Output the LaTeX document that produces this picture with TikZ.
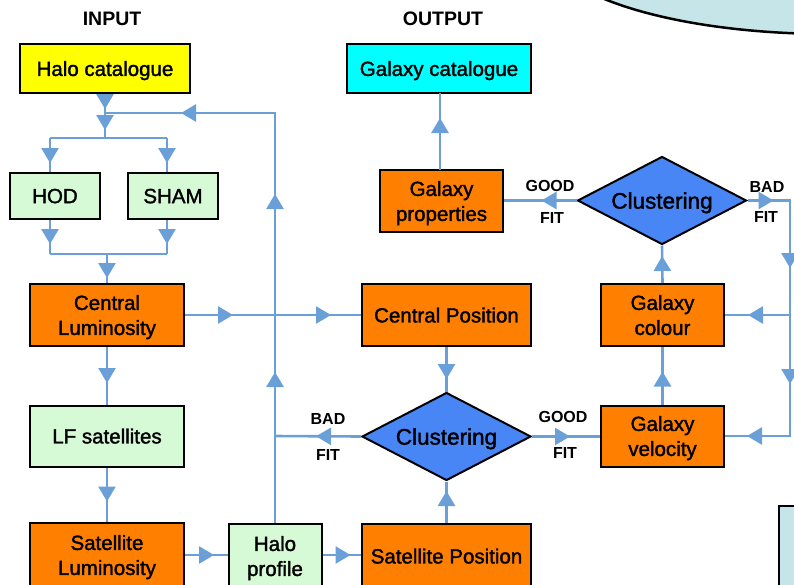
\documentclass[tikz,border=0pt]{standalone}
\usepackage{fontspec}
\setmainfont{Liberation Sans}
\newfontfamily\boxfont{Liberation Sans}[FakeBold=1.6]
\usetikzlibrary{shapes.geometric,arrows.meta,decorations.markings}

\definecolor{flowblue}{RGB}{106,159,216}
\definecolor{haloyellow}{RGB}{255,255,0}
\definecolor{galcyan}{RGB}{0,255,255}
\definecolor{paleGreen}{RGB}{214,250,214}
\definecolor{procOrange}{RGB}{255,128,0}
\definecolor{testBlue}{RGB}{72,134,246}
\definecolor{paleCyan}{RGB}{198,229,233}

\tikzset{
  box/.style={draw=black, line width=2pt, align=center, inner sep=0pt,
    text depth=0pt, font=\boxfont\fontsize{20.5}{25}\selectfont},
  inbox/.style={box, fill=haloyellow},
  outbox/.style={box, fill=galcyan},
  modelbox/.style={box, fill=paleGreen},
  procbox/.style={box, fill=procOrange},
  testnode/.style={draw=black, line width=2pt, fill=testBlue, diamond,
    aspect=1.95, inner sep=0pt, minimum width=169pt, minimum height=88pt,
    text depth=0pt, font=\boxfont\fontsize{22.5}{26}\selectfont},
  flow/.style={draw=flowblue, line width=2.6pt},
  tipat/.style={postaction={decorate,decoration={markings,
    mark=at position #1pt with {\arrow[flowblue]{Triangle[width=17pt,length=15pt]}}}}},
  lab/.style={inner sep=0pt, font=\bfseries\fontsize{16}{19}\selectfont},
  head/.style={inner sep=0pt, font=\bfseries\fontsize{19.5}{23}\selectfont},
}

\begin{document}
\begin{tikzpicture}[x=1pt,y=-1pt]
\useasboundingbox (0,0) rectangle (794,584);
\clip (0,0) rectangle (794,584);

% decorative shapes at the edges
\draw[fill=paleCyan, line width=2.5pt] (830,-56) ellipse [x radius=285, y radius=90];
\draw[fill=paleCyan, line width=2.5pt] (779,506) rectangle (830,620);

% headings
\node[head] (hIn) at (112,19) {INPUT};
\node[head] (hOut) at (443,19) {OUTPUT};

% boxes
\node[inbox, minimum width=170pt, minimum height=49pt] (haloCat) at (105,68.5) {Halo catalogue};
\node[outbox, minimum width=184pt, minimum height=49pt] (galCat) at (439,68.5) {Galaxy catalogue};
\node[modelbox, minimum width=90pt, minimum height=46pt] (hod) at (55,196) {HOD};
\node[modelbox, minimum width=90pt, minimum height=46pt] (sham) at (173,196) {SHAM};
\node[procbox, minimum width=154pt, minimum height=62pt] (cenLum) at (107,315) {Central\\Luminosity};
\node[procbox, minimum width=169pt, minimum height=62pt] (cenPos) at (446.5,315) {Central Position};
\node[modelbox, minimum width=154pt, minimum height=61pt] (lfSat) at (107,436) {LF satellites};
\node[procbox, minimum width=154pt, minimum height=64pt] (satLum) at (107,555) {Satellite\\Luminosity};
\node[modelbox, minimum width=93pt, minimum height=64pt] (haloProf) at (275,556) {Halo\\profile};
\node[procbox, minimum width=169pt, minimum height=64pt] (satPos) at (446.5,556) {Satellite Position};
\node[testnode] (clusA) at (446.5,436.5) {Clustering};
\node[procbox, minimum width=123pt, minimum height=62pt] (galProp) at (441.5,201) {Galaxy\\properties};
\node[testnode] (clusB) at (662,200.5) {Clustering};
\node[procbox, minimum width=123pt, minimum height=62pt] (galCol) at (662.5,315) {Galaxy\\colour};
\node[procbox, minimum width=123pt, minimum height=61pt] (galVel) at (662.5,436) {Galaxy\\velocity};

% junction points
\coordinate (jTop) at (105,113);
\coordinate (jSplit) at (105,138);
\coordinate (sL) at (50,138);
\coordinate (sR) at (167,138);
\coordinate (hodIn) at ([xshift=-5pt]hod.north);
\coordinate (shamIn) at ([xshift=-6pt]sham.north);
\coordinate (hodOut) at ([xshift=-5pt]hod.south);
\coordinate (shamOut) at ([xshift=-6pt]sham.south);
\coordinate (mL) at (50,254);
\coordinate (mR) at (167,254);
\coordinate (jMerge) at (107,254);
\coordinate (fbTop) at (275,113);
\coordinate (fbMid) at (275,436);
\coordinate (eTop) at (790,200.5);
\coordinate (eMid) at (790,315);
\coordinate (eBot) at (790,436);
\coordinate (propOut) at (440,170);
\coordinate (catIn) at (440,93);

% input side
\draw[flow, tipat=15] (haloCat.south) -- (jTop);
\draw[flow, tipat=17] (jTop) -- (jSplit);
\draw[flow] (sL) -- (sR);
\draw[flow, tipat=25] (sL) -- (hodIn);
\draw[flow, tipat=25] (sR) -- (shamIn);
\draw[flow, tipat=24] (hodOut) -- (mL);
\draw[flow, tipat=24] (shamOut) -- (mR);
\draw[flow] (mL) -- (mR);
\draw[flow, tipat=24] (jMerge) -- (cenLum.north);

% feedback loop through the halo profile
\draw[flow, tipat=151, tipat=329, tipat=504] (haloProf.north) -- (fbTop) -- (jTop);

% central and satellite chain
\draw[flow, tipat=48, tipat=146] (cenLum.east) -- (cenPos.west);
\draw[flow, tipat=36] (cenLum.south) -- (lfSat.north);
\draw[flow, tipat=34] (lfSat.south) -- (satLum.north);
\draw[flow, tipat=29] (satLum.east |- 0,555) -- (haloProf.west |- 0,555);
\draw[flow, tipat=28] (haloProf.east |- 0,555) -- (satPos.west |- 0,555);
\draw[flow, tipat=32] (cenPos.south) -- (clusA.north);
\draw[flow, tipat=32] (satPos.north) -- (clusA.south);
\draw[flow, tipat=45] (clusA.west) -- (fbMid);
\draw[flow, tipat=38] (clusA.east) -- (galVel.west |- clusA.east);

% galaxy side
\draw[flow, tipat=33] (galVel.north) -- (galCol.south);
\draw[flow, tipat=27] (galCol.north) -- (clusB.south);
\draw[flow, tipat=35] (clusB.west) -- (galProp.east |- clusB.west);
\draw[flow, tipat=52] (propOut) -- (catIn);
\draw[flow, tipat=26, tipat=110, tipat=226, tipat=321] (clusB.east) -- (eTop) -- (eBot) -- (galVel.east |- eBot);
\draw[flow, tipat=42] (eMid) -- (galCol.east |- eMid);

% decision labels
\node[lab] (badA) at (328,419) {BAD};
\node[lab] (fitA) at (328,455) {FIT};
\node[lab] (goodA) at (563,417) {GOOD};
\node[lab] (fitB) at (565,453) {FIT};
\node[lab] (goodB) at (550,186) {GOOD};
\node[lab] (fitC) at (552,218) {FIT};
\node[lab] (badB) at (767,187) {BAD};
\node[lab] (fitD) at (766,217) {FIT};
\end{tikzpicture}
\end{document}
